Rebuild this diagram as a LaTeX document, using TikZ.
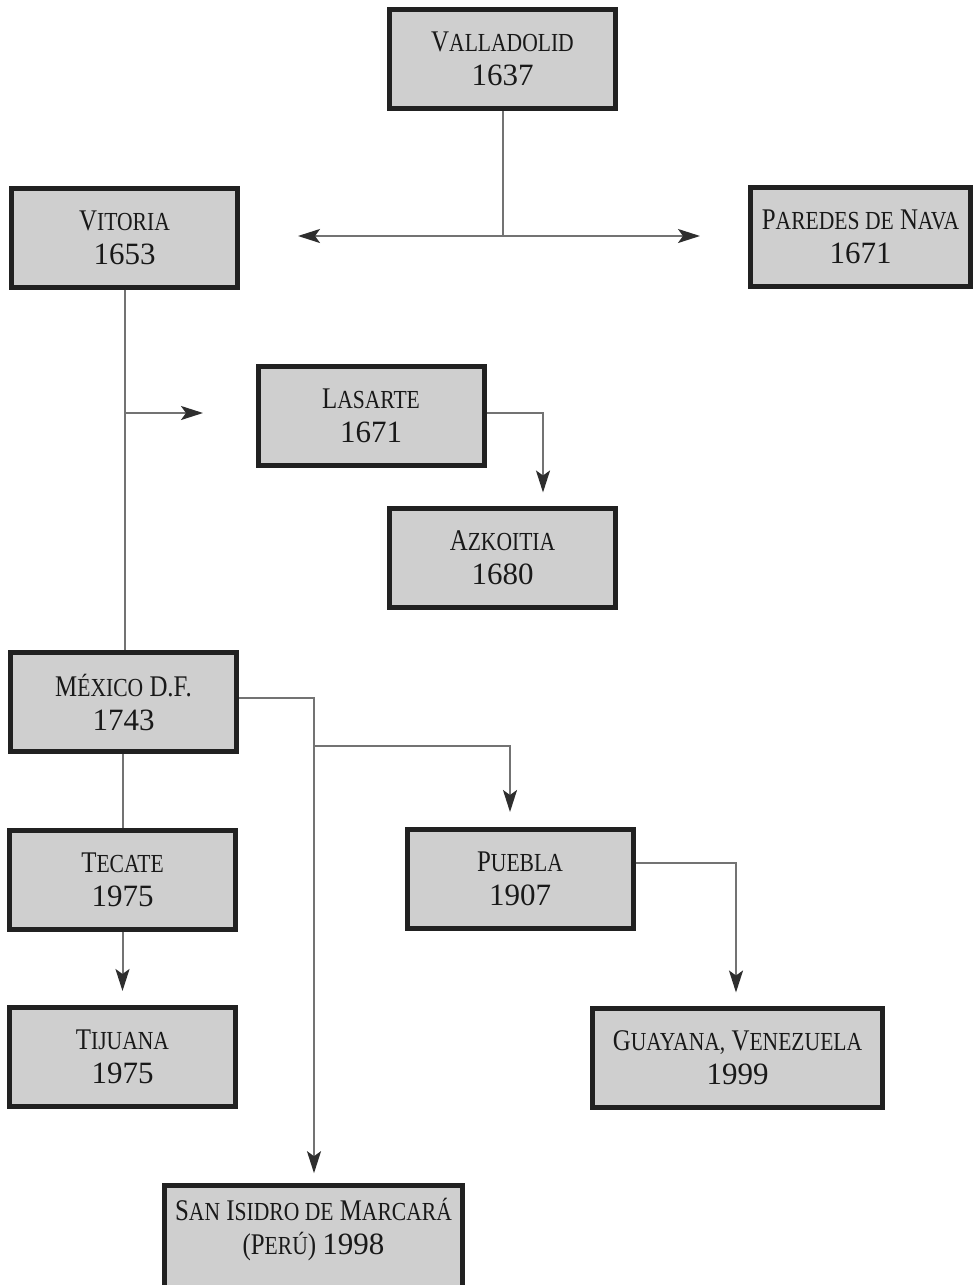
\documentclass[tikz,border=0pt]{standalone}
\usepackage{fontspec}
\usetikzlibrary{arrows.meta}
\newfontfamily\garnames[FakeStretch=0.83]{Liberation Serif}
\newfontfamily\garnums{Liberation Serif}
\newcommand\Sc[1]{{\fontsize{26}{34}\selectfont #1}}
\newcommand\Yr[1]{{\garnums\fontsize{31}{34}\selectfont #1}}
\begin{document}
\begin{tikzpicture}[x=1pt,y=-1pt,
  box/.style={draw=black!87, fill=black!19, line width=5pt, minimum width=226pt,
    minimum height=99pt, align=center, inner sep=0pt, text=black!90,
    font=\garnames\fontsize{30}{34}\selectfont},
  conn/.style={draw=black!55, line width=2pt},
  arr/.style={conn, -{Stealth[length=22pt,width=14pt,inset=5pt,color=black!82]}}]
\useasboundingbox[fill=white] (0,0) rectangle (976,1285);

\node[box] (vall) at (502.5,59) {V\Sc{ALLADOLID}\\\Yr{1637}};
\node[box] (vit)  at (124.5,237.5) {V\Sc{ITORIA}\\\Yr{1653}};
\node[box, minimum width=220pt] (par) at (860.5,237) {P\Sc{AREDES DE} N\Sc{AVA}\\\Yr{1671}};
\node[box] (las)  at (371,415.5) {L\Sc{ASARTE}\\\Yr{1671}};
\node[box] (azk)  at (502.5,557.5) {A\Sc{ZKOITIA}\\\Yr{1680}};
\node[box] (mex)  at (123.5,702) {M\Sc{ÉXICO} D.F.\\\Yr{1743}};
\node[box] (tec)  at (122.5,879.5) {T\Sc{ECATE}\\\Yr{1975}};
\node[box] (tij)  at (122.5,1057) {T\Sc{IJUANA}\\\Yr{1975}};
\node[box] (pue)  at (520,879) {P\Sc{UEBLA}\\\Yr{1907}};
\node[box, minimum width=290pt] (guay) at (737.5,1057.5) {G\Sc{UAYANA,} V\Sc{ENEZUELA}\\\Yr{1999}};
\node[box, minimum width=298pt, minimum height=124pt] (san) at (313.5,1247.7)
  {\begin{tabular}{@{}c@{}}S\Sc{AN} I\Sc{SIDRO DE} M\Sc{ARCARÁ}\\(P\Sc{ERÚ}) \Yr{1998}\\ \mbox{}\end{tabular}};

% Valladolid branches
\coordinate (j1) at (503,236);
\coordinate (aL) at (298,236);
\coordinate (aR) at (700,236);
\draw[conn] (vall.south -| j1) -- (j1);
\draw[arr] (j1) -- (aL);
\draw[arr] (j1) -- (aR);

% Vitoria trunk
\coordinate (lt) at (203,413);
\draw[conn] (vit.south) -- (vit.south |- mex.north);
\draw[arr] (vit.south |- lt) -- (lt);

% Lasarte -> Azkoitia
\coordinate (c1) at (543,413);
\draw[arr, shorten >=13pt] (las.east |- c1) -- (c1) -- (c1 |- azk.north);

% Mexico branches
\coordinate (d1) at (314,698);
\coordinate (d2) at (314,746);
\coordinate (d3) at (510,746);
\draw[arr, shorten >=10pt] (mex.east |- d1) -- (d1) -- (d1 |- san.north);
\draw[arr, shorten >=15pt] (d2) -- (d3) -- (d3 |- pue.north);
\draw[conn] (mex.south -| tec.north) -- (tec.north);
\draw[arr, shorten >=14pt] (tec.south) -- (tij.north);

% Puebla -> Guayana
\coordinate (e1) at (736,863);
\draw[arr, shorten >=13pt] (pue.east |- e1) -- (e1) -- (e1 |- guay.north);
\end{tikzpicture}
\end{document}
